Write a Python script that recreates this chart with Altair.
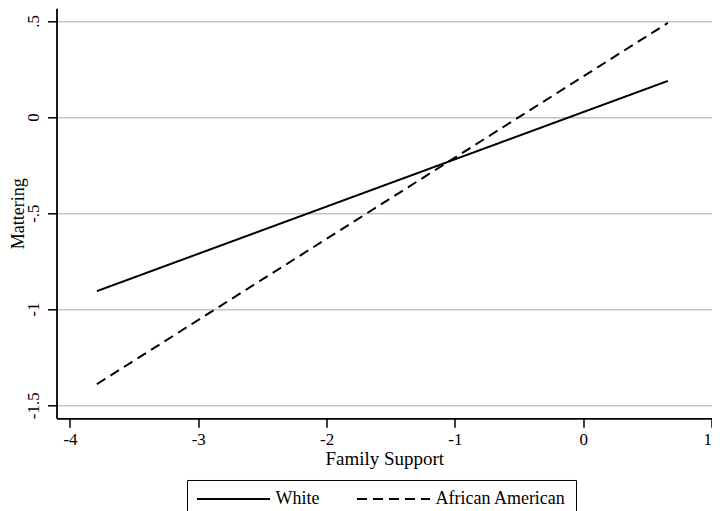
import altair as alt
import pandas as pd

# Data
family_support = [-3.79, 0.66]
white = [-0.906, 0.188]
african_american = [-1.39, 0.49]
groups = ["White", "African American"]
x_ticks = [-4, -3, -2, -1, 0, 1]
y_ticks = [-1.5, -1, -0.5, 0, 0.5]

rows = []
for g, vals in zip(groups, [white, african_american]):
    for x, y in zip(family_support, vals):
        rows.append({"Family Support": x, "Mattering": y, "group": g})
df = pd.DataFrame(rows)

FONT = "Liberation Serif"

chart = alt.Chart(df).mark_line(color="black", strokeWidth=2).encode(
    x=alt.X(
        "Family Support:Q",
        scale=alt.Scale(domain=[-4.105, 1.004], nice=False, zero=False),
        axis=alt.Axis(
            values=x_ticks,
            grid=False,
            labelExpr="'' + datum.value",
            labelPadding=4,
            titlePadding=2,
        ),
    ),
    y=alt.Y(
        "Mattering:Q",
        scale=alt.Scale(domain=[-1.568, 0.566], nice=False, zero=False),
        axis=alt.Axis(
            values=y_ticks,
            grid=True,
            gridColor="#c4c4c4",
            gridWidth=1.5,
            labelAngle=270,
            labelAlign="center",
            labelBaseline="bottom",
            labelPadding=5,
            labelExpr="datum.value == 0.5 ? '.5' : datum.value == -0.5 ? '-.5' : '' + datum.value",
            titleFontSize=18,
            titlePadding=-3,
        ),
    ),
    strokeDash=alt.StrokeDash(
        "group:N",
        scale=alt.Scale(domain=groups, range=[[1, 0], [10, 6]]),
        legend=alt.Legend(
            title=None,
            orient="none",
            legendX=130.5,
            legendY=471.7,
            direction="horizontal",
            columns=2,
            strokeColor="black",
            padding=10,
            columnPadding=33,
            symbolType="M-4.5625,0H4.5625",
            symbolSize=256,
            symbolOffset=27.5,
            labelOffset=33,
            symbolStrokeWidth=1.8,
            symbolStrokeColor="black",
            symbolFillColor="transparent",
            labelFont=FONT,
            labelFontSize=18,
            labelColor="black",
        ),
    ),
).properties(
    width=655.5,
    height=410,
    autosize=alt.AutoSizeParams(type="none"),
    padding={"left": 48.5, "top": 0.3, "right": 0, "bottom": 106},
).configure_view(
    stroke=None
).configure_axis(
    domainColor="black",
    domainWidth=1.8,
    tickColor="black",
    tickWidth=1.5,
    tickSize=9,
    labelFont=FONT,
    labelFontSize=17,
    labelColor="black",
    titleFont=FONT,
    titleFontSize=19,
    titleFontWeight="normal",
    titleColor="black",
)

chart.save("out.html", embed_options={"renderer": "svg", "actions": False})
